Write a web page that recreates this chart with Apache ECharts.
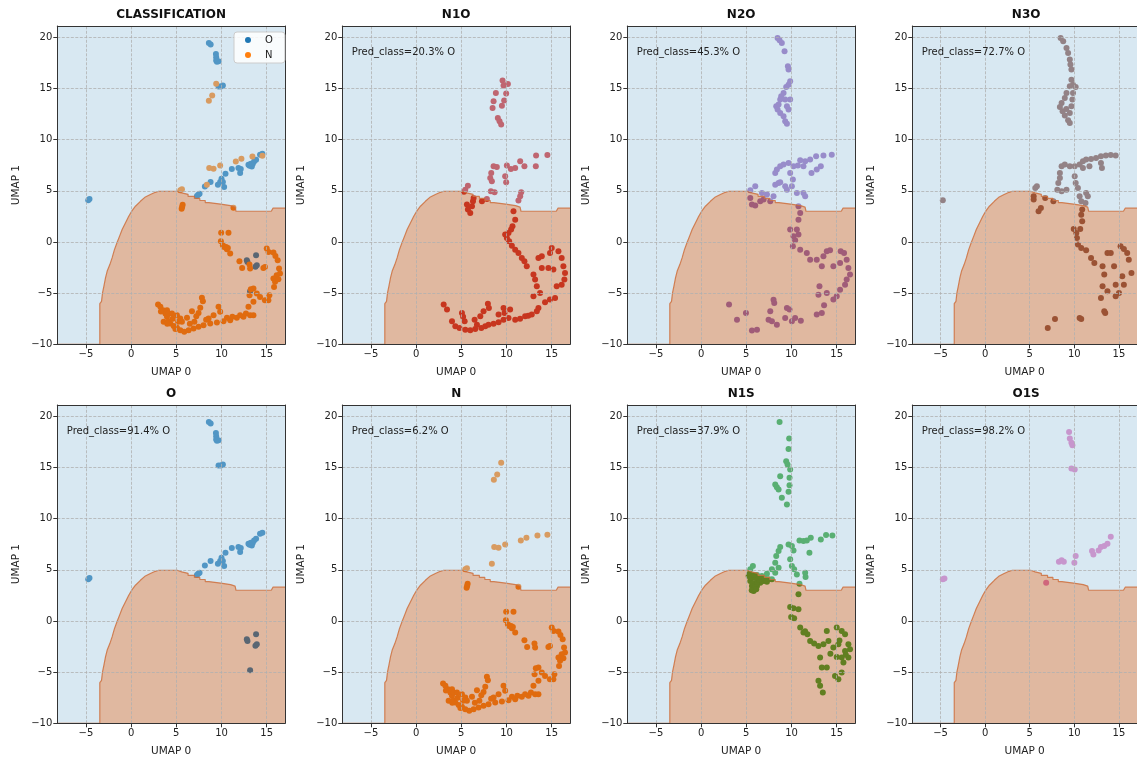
<!DOCTYPE html>
<html>
<head>
<meta charset="utf-8">
<script src="https://cdn.jsdelivr.net/npm/echarts@6/dist/echarts.min.js"></script>
<style>
  html, body { margin: 0; padding: 0; background: #ffffff; }
  #chart { width: 1137px; height: 758px; }
</style>
</head>
<body>
<div id="chart"></div>
<script>
// ---- axis extents and tick values ----
const xRange = [-8.16, 17.02];
const yRange = [-10, 21.1];
const xTicks = [-5, 0, 5, 10, 15];
const yTicks = [-10, -5, 0, 5, 10, 15, 20];

// ---- decision boundary between the two classes (upper edge of the N region) ----
const boundaryX = [-8.16, -3.46, -3.46, -3.27, -3.16, -3.01, -2.83, -2.65, -2.35, -2.1, -1.84, -1.54,
  -1.25, -0.99, -0.63, -0.26, 0.11, 0.48, 1.03, 1.58, 2.13, 2.68, 3.05, 5.1, 5.1, 5.6, 5.6, 6.3, 6.3,
  7.0, 7.0, 7.6, 7.6, 8.2, 8.2, 8.6, 8.6, 9.9, 9.9, 11.0, 11.0, 11.5, 11.6, 15.5, 15.7, 17.02];
const boundaryY = [-10, -10, -6.03, -5.8, -4.98, -4.33, -3.52, -2.87, -2.21, -1.56, -0.75, -0.03,
  0.62, 1.21, 1.86, 2.51, 3.06, 3.49, 3.97, 4.4, 4.63, 4.85, 4.95, 4.95, 4.8, 4.8, 4.65, 4.65, 4.45,
  4.45, 4.25, 4.25, 4.05, 4.05, 3.85, 3.85, 3.7, 3.7, 3.55, 3.55, 3.4, 3.4, 3.0, 3.0, 3.3, 3.3];

// ---- panel titles and predicted share of class O ----
const panelTitles = ['CLASSIFICATION', 'N1O', 'N2O', 'N3O', 'O', 'N', 'N1S', 'O1S'];
const predPctO = [null, 20.3, 45.3, 72.7, 91.4, 6.2, 37.9, 98.2];
const legendNames = ['O', 'N'];

// ---- UMAP embeddings per sample set ----
const ptsO = [[-4.74,4.07],[-4.6,4.2],[8.6,19.45],[8.8,19.3],[9.38,18.37],[9.41,18.05],[9.41,17.72],
  [9.49,17.6],[9.67,17.65],[9.67,15.2],[9.93,15.2],[10.15,15.28],[7.28,4.49],[7.43,4.62],[7.57,4.72],
  [8.16,5.43],[8.79,5.85],[9.6,5.59],[9.85,5.85],[10.0,6.18],[10.15,5.85],[10.29,5.37],[10.44,6.67],
  [11.14,7.12],[11.87,7.22],[12.13,7.12],[12.06,6.73],[12.98,7.54],[13.1,7.45],[13.24,7.64],[13.35,7.38],
  [13.46,7.64],[13.6,7.87],[13.82,8.03],[14.26,8.52],[14.52,8.62],[12.8,-1.79],[12.87,-1.95],
  [13.82,-1.3],[13.75,-2.43],[13.9,-2.27],[13.16,-4.81]];

const ptsN = [[8.6,13.79],[8.97,14.31],[9.41,15.45],[8.64,7.22],[9.12,7.15],[9.85,7.48],[8.38,5.59],
  [11.58,7.87],[12.2,8.13],[13.42,8.36],[14.52,8.42],[5.44,5.04],[5.62,5.14],[11.32,3.35],
  [5.7,3.64],[5.59,3.25],[5.65,3.45],[9.96,0.91],[10.77,0.91],[9.93,0.07],[10.15,-0.33],[10.29,-0.49],
  [10.59,-0.72],[10.96,-1.14],[10.5,-0.5],[10.7,-0.6],[11.98,-1.89],[12.28,-2.54],[13.09,-2.21],
  [13.16,-2.6],[14.63,-2.54],[14.8,-2.44],[15.0,-0.65],[15.2,-0.98],[15.74,-1.04],[15.96,-1.37],
  [16.21,-1.79],[16.36,-2.6],[16.47,-3.09],[16.1,-3.25],[15.74,-3.58],[15.92,-3.9],[16.29,-3.64],
  [15.81,-4.39],[15.29,-5.2],[15.18,-5.69],[14.8,-5.7],[13.9,-5.04],[13.53,-4.55],[13.24,-4.62],
  [13.1,-5.2],[13.53,-5.85],[12.98,-6.34],[14.26,-5.37],[2.98,-6.11],[3.24,-6.34],[3.53,-6.67],
  [3.79,-6.99],[3.97,-7.32],[4.15,-7.74],[4.34,-7.97],[4.71,-8.2],[5.07,-8.39],[5.44,-8.62],
  [5.88,-8.78],[6.36,-8.62],[6.91,-8.46],[7.46,-8.29],[8.01,-8.13],[8.75,-7.97],[9.49,-7.87],
  [10.22,-7.74],[10.96,-7.64],[11.69,-7.41],[12.43,-7.32],[13.16,-7.15],[13.53,-7.15],[3.97,-6.67],
  [4.15,-6.99],[4.52,-6.99],[5.07,-7.15],[5.44,-7.48],[5.62,-7.8],[3.6,-7.8],[4.0,-8.0],[7.83,-5.46],
  [7.94,-5.79],[7.65,-6.44],[7.46,-6.93],[7.21,-7.25],[6.73,-6.76],[6.18,-7.41],[9.67,-6.34],
  [9.85,-6.83],[9.12,-7.15],[8.57,-7.48],[12.06,-7.15],[6.5,-8.0],[7.0,-7.8],[8.3,-7.6],[10.6,-7.4],
  [11.2,-7.3],[12.7,-7.0],[4.9,-8.5],[5.2,-7.8],[3.3,-6.8],[4.6,-7.5]];

const ptsN1O = [[9.56,15.77],[9.67,15.28],[10.15,15.44],[8.82,14.56],[8.57,13.75],[8.46,13.1],[9.49,13.32],
  [9.74,13.81],[9.96,14.5],[9.04,12.12],[9.23,11.79],[9.41,11.47],[8.57,7.39],[8.93,7.33],[8.31,6.74],
  [8.2,6.25],[8.38,5.93],[8.27,4.95],[8.68,4.85],[10.04,7.46],[10.48,7.13],[10.96,7.23],[11.98,7.39],
  [11.51,7.88],[13.27,8.44],[13.24,7.39],[14.52,8.5],[9.85,6.42],[9.96,5.83],[11.62,4.85],[11.51,4.46],
  [11.32,4.04],[5.44,5.11],[5.73,5.5],[5.3,4.9],[5.62,3.65],[5.73,3.16],[5.99,2.83],[6.18,3.49],
  [6.29,3.97],[6.36,4.3],[7.28,3.97],[7.83,4.2],[10.77,3.0],[10.96,2.18],[10.66,1.53],[10.51,1.21],
  [10.22,0.88],[9.85,0.72],[10.04,0.39],[10.29,0.07],[10.59,-0.36],[10.96,-0.75],[11.32,-1.07],
  [11.69,-1.56],[11.98,-1.89],[12.24,-2.38],[12.98,-3.19],[13.53,-1.56],[13.9,-1.4],[14.81,-1.07],
  [15.0,-0.59],[15.74,-0.91],[16.1,-1.56],[16.29,-2.38],[16.47,-3.03],[16.4,-3.68],[16.1,-4.17],
  [15.55,-4.33],[15.37,-5.47],[14.81,-5.63],[14.26,-5.9],[13.71,-4.98],[13.35,-4.33],[12.98,-5.31],
  [13.16,-3.68],[13.9,-2.54],[14.63,-2.54],[15.18,-2.7],[3.05,-6.12],[3.42,-6.61],[3.97,-7.75],
  [4.34,-8.24],[5.07,-6.94],[5.37,-7.75],[5.44,-8.57],[5.99,-8.63],[6.54,-8.5],[7.21,-8.4],[7.65,-8.24],
  [8.01,-8.08],[8.57,-7.98],[9.12,-7.85],[9.67,-7.59],[10.22,-7.43],[10.96,-7.59],[12.06,-7.26],
  [12.79,-7.1],[13.35,-6.78],[13.53,-6.45],[7.94,-6.03],[8.05,-6.45],[7.46,-6.78],[7.1,-7.26],
  [6.47,-7.59],[9.67,-6.45],[9.78,-6.94],[10.4,-6.61],[9.12,-7.1],[6.73,-8.08],[4.8,-8.4],[11.5,-7.5],
  [12.4,-7.2],[5.2,-7.3]];

const ptsN2O = [[8.46,19.93],[8.68,19.71],[8.93,19.45],[9.23,18.63],[9.6,17.17],[9.67,16.84],[9.85,15.7],
  [9.67,15.37],[9.12,14.56],[8.86,14.23],[8.75,13.91],[8.57,13.42],[8.31,13.26],[8.46,12.93],[8.75,12.6],
  [9.12,12.28],[9.3,11.79],[9.49,11.56],[9.67,12.93],[9.85,13.91],[9.49,13.26],[9.3,13.91],[9.41,15.14],
  [5.44,5.05],[5.99,5.44],[6.73,4.79],[7.28,4.63],[8.01,4.46],[8.2,5.6],[8.57,5.77],[8.2,6.74],
  [8.38,7.07],[8.75,7.39],[9.12,7.56],[9.67,7.72],[10.22,7.39],[10.7,7.46],[11.32,7.39],[10.96,7.98],
  [11.51,7.88],[12.06,8.05],[12.72,8.37],[13.53,8.44],[14.45,8.53],[13.24,7.39],[12.79,7.07],
  [12.21,6.74],[9.85,6.74],[10.15,6.09],[10.04,5.44],[10.59,4.79],[11.32,4.79],[11.51,4.46],[8.75,5.83],
  [9.3,5.44],[9.49,5.11],[5.44,4.3],[5.62,3.65],[5.99,3.55],[6.54,3.97],[6.91,4.14],[7.65,3.97],
  [10.77,3.49],[10.96,2.83],[10.77,2.18],[9.85,1.21],[10.59,1.21],[10.22,0.55],[10.77,0.72],[10.4,0.16],
  [10.15,-0.42],[10.96,-0.75],[11.69,-1.07],[12.06,-1.73],[12.79,-1.73],[13.53,-1.4],[13.9,-0.91],
  [14.26,-0.81],[15.44,-0.91],[15.81,-1.07],[16.1,-1.73],[16.29,-2.54],[16.47,-3.19],[16.1,-3.68],
  [15.92,-4.17],[15.37,-4.66],[15.0,-5.31],[14.63,-5.63],[13.9,-4.98],[13.09,-4.33],[12.98,-5.15],
  [13.35,-2.38],[14.63,-2.38],[15.37,-2.05],[13.6,-6.19],[13.35,-6.94],[12.79,-7.1],[8.01,-5.64],
  [8.09,-5.96],[9.49,-6.45],[9.78,-6.61],[7.65,-6.78],[7.46,-7.59],[7.83,-7.75],[8.38,-8.08],
  [9.3,-7.43],[10.04,-7.75],[10.4,-7.43],[11.03,-7.69],[6.18,-8.57],[5.62,-8.66],[4.96,-6.94],
  [3.97,-7.59],[3.09,-6.12]];

const ptsN3O = [[-4.74,4.07],[8.46,19.93],[8.75,19.6],[9.12,18.96],[9.3,18.47],[9.49,17.82],[9.56,17.33],
  [9.67,16.84],[9.67,15.86],[9.85,15.37],[9.49,15.21],[10.15,15.14],[9.12,14.56],[8.93,14.07],
  [8.57,13.58],[8.38,13.19],[8.68,12.77],[8.93,12.35],[9.3,11.89],[9.49,11.63],[9.67,13.26],
  [9.78,13.91],[9.85,14.56],[9.49,12.6],[9.1,13.0],[5.62,5.28],[5.8,5.45],[8.57,7.39],[8.93,7.56],
  [9.49,7.39],[10.04,7.39],[10.59,7.56],[10.96,7.88],[11.32,8.05],[11.87,8.11],[12.43,8.21],
  [12.98,8.37],[13.53,8.44],[14.08,8.5],[14.63,8.44],[12.98,7.72],[13.09,7.23],[11.69,7.39],
  [10.96,7.23],[8.38,6.74],[8.38,6.25],[8.2,5.77],[8.09,5.11],[8.57,4.95],[9.12,5.11],[10.04,6.42],
  [10.15,5.77],[10.4,5.28],[10.59,4.46],[10.77,3.97],[11.32,4.79],[11.51,4.46],[11.25,3.81],
  [5.44,4.46],[5.44,4.14],[5.99,3.0],[6.25,3.32],[6.73,4.3],[7.65,3.97],[10.88,3.16],[10.77,2.67],
  [10.88,2.02],[9.93,1.27],[10.66,1.27],[10.22,0.88],[10.29,0.39],[10.4,-0.26],[10.77,-0.59],
  [11.32,-0.81],[11.87,-1.56],[12.24,-2.05],[13.16,-2.38],[13.35,-3.19],[13.71,-1.07],[14.08,-1.07],
  [15.18,-0.42],[15.55,-0.68],[15.92,-1.07],[16.1,-1.73],[16.4,-3.03],[15.37,-3.36],[15.55,-4.17],
  [14.45,-2.38],[14.63,-4.17],[13.71,-4.82],[13.16,-4.33],[12.98,-5.47],[14.63,-5.31],[15.0,-4.98],
  [13.35,-6.78],[13.46,-6.94],[7.83,-7.52],[7.02,-8.4],[10.59,-7.43],[10.77,-7.52]];

const ptsN1S = [[8.68,19.45],[9.74,17.82],[9.67,16.81],[9.41,15.61],[9.56,15.28],[9.85,14.8],[8.75,14.15],
  [8.2,13.33],[8.38,13.07],[8.57,12.85],[8.93,12.03],[9.49,11.38],[9.67,12.62],[9.78,13.27],[9.78,13.98],
  [5.44,5.04],[5.73,5.37],[6.18,4.49],[6.73,4.39],[7.28,4.62],[7.83,5.04],[8.2,5.69],[8.31,6.34],
  [8.57,6.83],[8.75,7.22],[9.67,7.48],[10.04,7.32],[10.22,6.89],[10.88,7.87],[11.32,7.8],[11.69,7.87],
  [12.13,8.13],[11.98,6.67],[13.24,7.97],[13.82,8.39],[14.52,8.36],[9.85,6.02],[10.04,5.37],
  [10.29,5.04],[10.59,4.55],[10.88,3.64],[11.51,4.72],[11.55,4.29],[8.2,4.72],[8.57,5.2],
  [5.26,4.39],[5.44,3.9],[5.62,3.41],[5.81,2.93],[6.18,3.41],[6.54,3.74],[6.91,3.9],[7.46,4.07],
  [7.83,4.07],[6.36,4.23],[6.73,4.16],[7.28,3.84],[5.35,4.6],[5.5,4.2],[5.7,3.7],[5.9,3.2],[6.0,3.5],
  [6.2,3.8],[6.4,4.0],[6.0,4.2],[5.8,4.5],[6.6,4.3],[7.0,4.2],[7.2,3.95],[5.6,3.0],[6.1,3.1],
  [10.77,2.6],[9.85,1.37],[10.22,1.24],[10.77,1.14],[9.96,0.39],[10.29,0.26],[10.96,-0.65],
  [11.32,-1.14],[11.76,-1.3],[12.06,-1.95],[12.98,-2.44],[13.53,-2.28],[13.9,-0.98],[14.08,-1.95],
  [14.63,-2.6],[15.18,-2.28],[15.0,-0.65],[15.55,-0.98],[15.92,-1.3],[16.29,-2.28],[16.47,-2.76],
  [16.29,-3.58],[15.92,-2.93],[15.55,-3.58],[15.74,-4.07],[15.0,-3.51],[13.16,-3.58],[13.35,-4.55],
  [13.9,-4.55],[12.98,-5.85],[13.16,-6.34],[13.46,-6.99],[14.81,-5.37],[15.18,-5.69],[15.55,-5.04],
  [14.3,-3.2],[16.0,-3.3],[11.5,-1.0],[12.5,-2.2],[15.3,-1.9]];

const ptsO1S = [[-4.74,4.07],[-4.56,4.16],[9.41,18.47],[9.49,17.82],[9.67,17.4],[9.78,17.17],[9.67,14.89],
  [10.04,14.8],[8.27,5.79],[8.57,5.92],[8.82,5.79],[10.0,5.69],[10.15,6.34],[11.98,6.83],[12.13,6.5],
  [12.72,6.89],[12.98,7.22],[13.35,7.32],[13.71,7.54],[14.08,8.23],[6.84,3.74]];

// ---- figure layout (pixels) ----
const FONT = 'DejaVu Sans';
const PLOT_W = 227.7, PLOT_H = 318.3;
const COL_LEFT = [57.3, 342.3, 627.3, 912.3];
const ROW_TOP = [26, 405];
const TITLE_Y = [9, 388];

const panels = [
  { groups: [{ name: 'O', color: '#1f77b4', pts: ptsO }, { name: 'N', color: '#ff7f0e', pts: ptsN }] },
  { groups: [{ name: 'N1O', color: '#d62728', pts: ptsN1O }] },
  { groups: [{ name: 'N2O', color: '#9467bd', pts: ptsN2O }] },
  { groups: [{ name: 'N3O', color: '#8c564b', pts: ptsN3O }] },
  { groups: [{ name: 'O', color: '#1f77b4', pts: ptsO }] },
  { groups: [{ name: 'N', color: '#ff7f0e', pts: ptsN }] },
  { groups: [{ name: 'N1S', color: '#2ca02c', pts: ptsN1S }] },
  { groups: [{ name: 'O1S', color: '#e377c2', pts: ptsO1S }] }
];

const boundary = boundaryX.map((x, i) => [x, boundaryY[i]]);
const minusFmt = v => String(v).replace('-', '\u2212');
const gridLineData = xTicks.map(v => ({ xAxis: v })).concat(yTicks.map(v => ({ yAxis: v })));

const grids = [], xAxes = [], yAxes = [], series = [], titles = [];

panels.forEach((p, i) => {
  const col = i % 4, row = Math.floor(i / 4);
  const left = COL_LEFT[col], top = ROW_TOP[row];
  grids.push({ left: left, top: top, width: PLOT_W, height: PLOT_H, show: true,
    backgroundColor: '#ffffff', borderWidth: 0, containLabel: false });

  xAxes.push({
    gridIndex: i, type: 'value', min: xRange[0], max: xRange[1], z: 10,
    name: 'UMAP 0', nameLocation: 'middle', nameGap: 22,
    nameTextStyle: { fontFamily: FONT, fontSize: 10.5, color: '#222' },
    axisLine: { show: true, onZero: false, lineStyle: { color: '#333', width: 1 } },
    axisTick: { show: true, length: 4, customValues: xTicks, lineStyle: { color: '#333' } },
    axisLabel: { customValues: xTicks, formatter: minusFmt, fontFamily: FONT, fontSize: 10, color: '#222', margin: 5 },
    splitLine: { show: false }
  });
  yAxes.push({
    gridIndex: i, type: 'value', min: yRange[0], max: yRange[1], z: 10,
    name: 'UMAP 1', nameLocation: 'middle', nameGap: 36,
    nameTextStyle: { fontFamily: FONT, fontSize: 10.5, color: '#222' },
    axisLine: { show: true, onZero: false, lineStyle: { color: '#333', width: 1 } },
    axisTick: { show: true, length: 4, customValues: yTicks, lineStyle: { color: '#333' } },
    axisLabel: { customValues: yTicks, formatter: minusFmt, fontFamily: FONT, fontSize: 10, color: '#222', margin: 5 },
    splitLine: { show: false }
  });

  p.groups.forEach(g => {
    series.push({
      type: 'scatter', name: g.name, xAxisIndex: i, yAxisIndex: i, data: g.pts,
      symbol: 'circle', symbolSize: 6, itemStyle: { color: g.color, opacity: 1 },
      z: 2, silent: true, animation: false
    });
  });
  // translucent class regions drawn over the points
  series.push({
    type: 'line', xAxisIndex: i, yAxisIndex: i, data: boundary, symbol: 'none', showSymbol: false,
    lineStyle: { width: 0, opacity: 0 },
    areaStyle: { origin: 'end', color: 'rgba(157,197,222,0.4)', opacity: 1 },
    z: 3, silent: true, animation: false
  });
  series.push({
    type: 'line', xAxisIndex: i, yAxisIndex: i, data: boundary, symbol: 'none', showSymbol: false,
    lineStyle: { color: 'rgba(205,112,62,0.85)', width: 1.2 },
    areaStyle: { origin: 'start', color: 'rgba(178,78,18,0.4)', opacity: 1 },
    z: 4, silent: true, animation: false
  });
  // dashed grid on top of everything, at the tick positions
  series.push({
    type: 'scatter', xAxisIndex: i, yAxisIndex: i, data: [], z: 6, silent: true, animation: false,
    markLine: {
      silent: true, symbol: 'none', animation: false, label: { show: false },
      lineStyle: { color: '#b0b0b0', width: 0.8, type: [3, 1.5], opacity: 1 },
      emphasis: { disabled: true },
      data: gridLineData
    }
  });

  titles.push({
    text: panelTitles[i], left: left + PLOT_W / 2, top: TITLE_Y[row], textAlign: 'center', padding: 0,
    textStyle: { fontFamily: FONT, fontSize: 12, fontWeight: 'bold', color: '#111' }
  });
  if (predPctO[i] !== null) {
    titles.push({
      text: 'Pred_class=' + predPctO[i] + '% O', left: left + 9.5, top: top + 21, padding: 0,
      textStyle: { fontFamily: FONT, fontSize: 10, fontWeight: 'normal', color: '#222' }
    });
  }
});

// top and right frame lines of every panel
panels.forEach((p, i) => {
  xAxes.push({ gridIndex: i, type: 'value', position: 'top', min: 0, max: 1, z: 10,
    axisLine: { show: true, onZero: false, lineStyle: { color: '#333', width: 1 } },
    axisTick: { show: false }, axisLabel: { show: false }, splitLine: { show: false } });
  yAxes.push({ gridIndex: i, type: 'value', position: 'right', min: 0, max: 1, z: 10,
    axisLine: { show: true, onZero: false, lineStyle: { color: '#333', width: 1 } },
    axisTick: { show: false }, axisLabel: { show: false }, splitLine: { show: false } });
});

const chart = echarts.init(document.getElementById('chart'), null, { renderer: 'canvas' });
chart.setOption({
  animation: false,
  backgroundColor: '#ffffff',
  title: titles,
  legend: {
    data: legendNames, orient: 'vertical', left: 234, top: 32,
    icon: 'circle', itemWidth: 6, itemHeight: 6, itemGap: 5,
    padding: [3, 12, 3, 11],
    backgroundColor: 'rgba(255,255,255,0.85)', borderColor: '#cccccc', borderWidth: 1, borderRadius: 3,
    textStyle: { fontFamily: FONT, fontSize: 10, color: '#222', padding: [0, 0, 0, 9] },
    selectedMode: false, z: 20
  },
  grid: grids,
  xAxis: xAxes,
  yAxis: yAxes,
  series: series
});
</script>
</body>
</html>
